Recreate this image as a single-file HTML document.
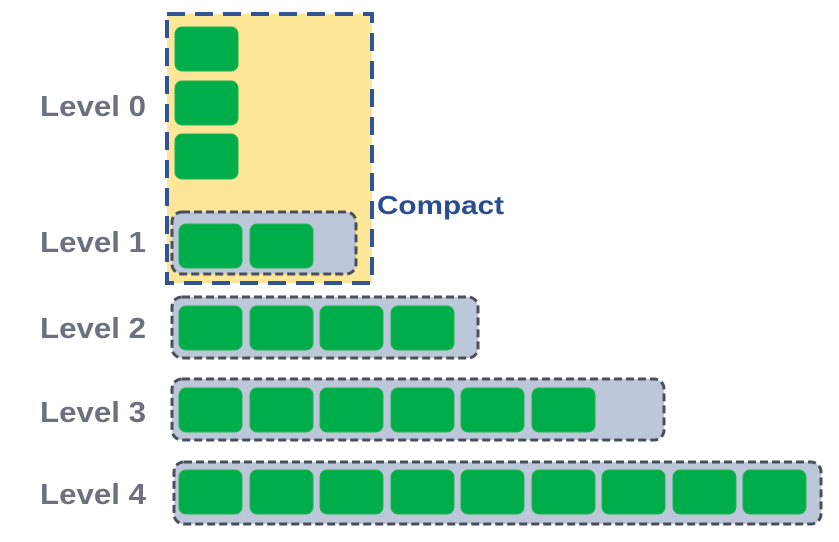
<!DOCTYPE html>
<html><head><style>html,body{margin:0;padding:0;background:#fff}</style></head>
<body>
<svg width="839" height="537" xmlns="http://www.w3.org/2000/svg" font-family="Liberation Sans, sans-serif">
<rect x="167" y="14" width="205" height="269" fill="#fee699" stroke="#2f5597" stroke-width="4" stroke-dasharray="18 10"/>
<g fill="#00ad4b" stroke="#22b24a" stroke-width="1">
<rect x="175" y="27" width="63" height="44" rx="7"/>
<rect x="175" y="81" width="63" height="44" rx="7"/>
<rect x="175" y="134" width="63" height="45" rx="7"/>
</g>
<g fill="#bcc8da" stroke="#4a4f5a" stroke-width="3" stroke-dasharray="8 4">
<rect x="172" y="212" width="184" height="62" rx="10"/>
<rect x="172" y="297" width="306" height="61" rx="10"/>
<rect x="172" y="379" width="492" height="61" rx="10"/>
<rect x="174" y="462" width="647" height="62" rx="10"/>
</g>
<g fill="#00ad4b" stroke="#22b24a" stroke-width="1">
<rect x="179" y="224" width="63" height="44" rx="7"/><rect x="250" y="224" width="63" height="44" rx="7"/>
<rect x="179" y="306" width="63" height="44" rx="7"/><rect x="250" y="306" width="63" height="44" rx="7"/><rect x="320" y="306" width="63" height="44" rx="7"/><rect x="391" y="306" width="63" height="44" rx="7"/>
<rect x="179" y="388" width="63" height="44" rx="7"/><rect x="250" y="388" width="63" height="44" rx="7"/><rect x="320" y="388" width="63" height="44" rx="7"/><rect x="391" y="388" width="63" height="44" rx="7"/><rect x="461" y="388" width="63" height="44" rx="7"/><rect x="532" y="388" width="63" height="44" rx="7"/>
<rect x="179" y="470" width="63" height="44" rx="7"/><rect x="250" y="470" width="63" height="44" rx="7"/><rect x="320" y="470" width="63" height="44" rx="7"/><rect x="391" y="470" width="63" height="44" rx="7"/><rect x="461" y="470" width="63" height="44" rx="7"/><rect x="532" y="470" width="63" height="44" rx="7"/><rect x="602" y="470" width="63" height="44" rx="7"/><rect x="673" y="470" width="63" height="44" rx="7"/><rect x="743" y="470" width="63" height="44" rx="7"/>
</g>
<g fill="#6b717e" font-size="29" font-weight="bold">
<text x="40" y="116" textLength="106" lengthAdjust="spacingAndGlyphs">Level 0</text>
<text x="40" y="252" textLength="106" lengthAdjust="spacingAndGlyphs">Level 1</text>
<text x="40" y="338" textLength="106" lengthAdjust="spacingAndGlyphs">Level 2</text>
<text x="40" y="422" textLength="106" lengthAdjust="spacingAndGlyphs">Level 3</text>
<text x="40" y="504" textLength="106" lengthAdjust="spacingAndGlyphs">Level 4</text>
</g>
<text x="377" y="214" fill="#2a4d8f" font-size="26" font-weight="bold" textLength="127" lengthAdjust="spacingAndGlyphs">Compact</text>
</svg>
</body></html>
